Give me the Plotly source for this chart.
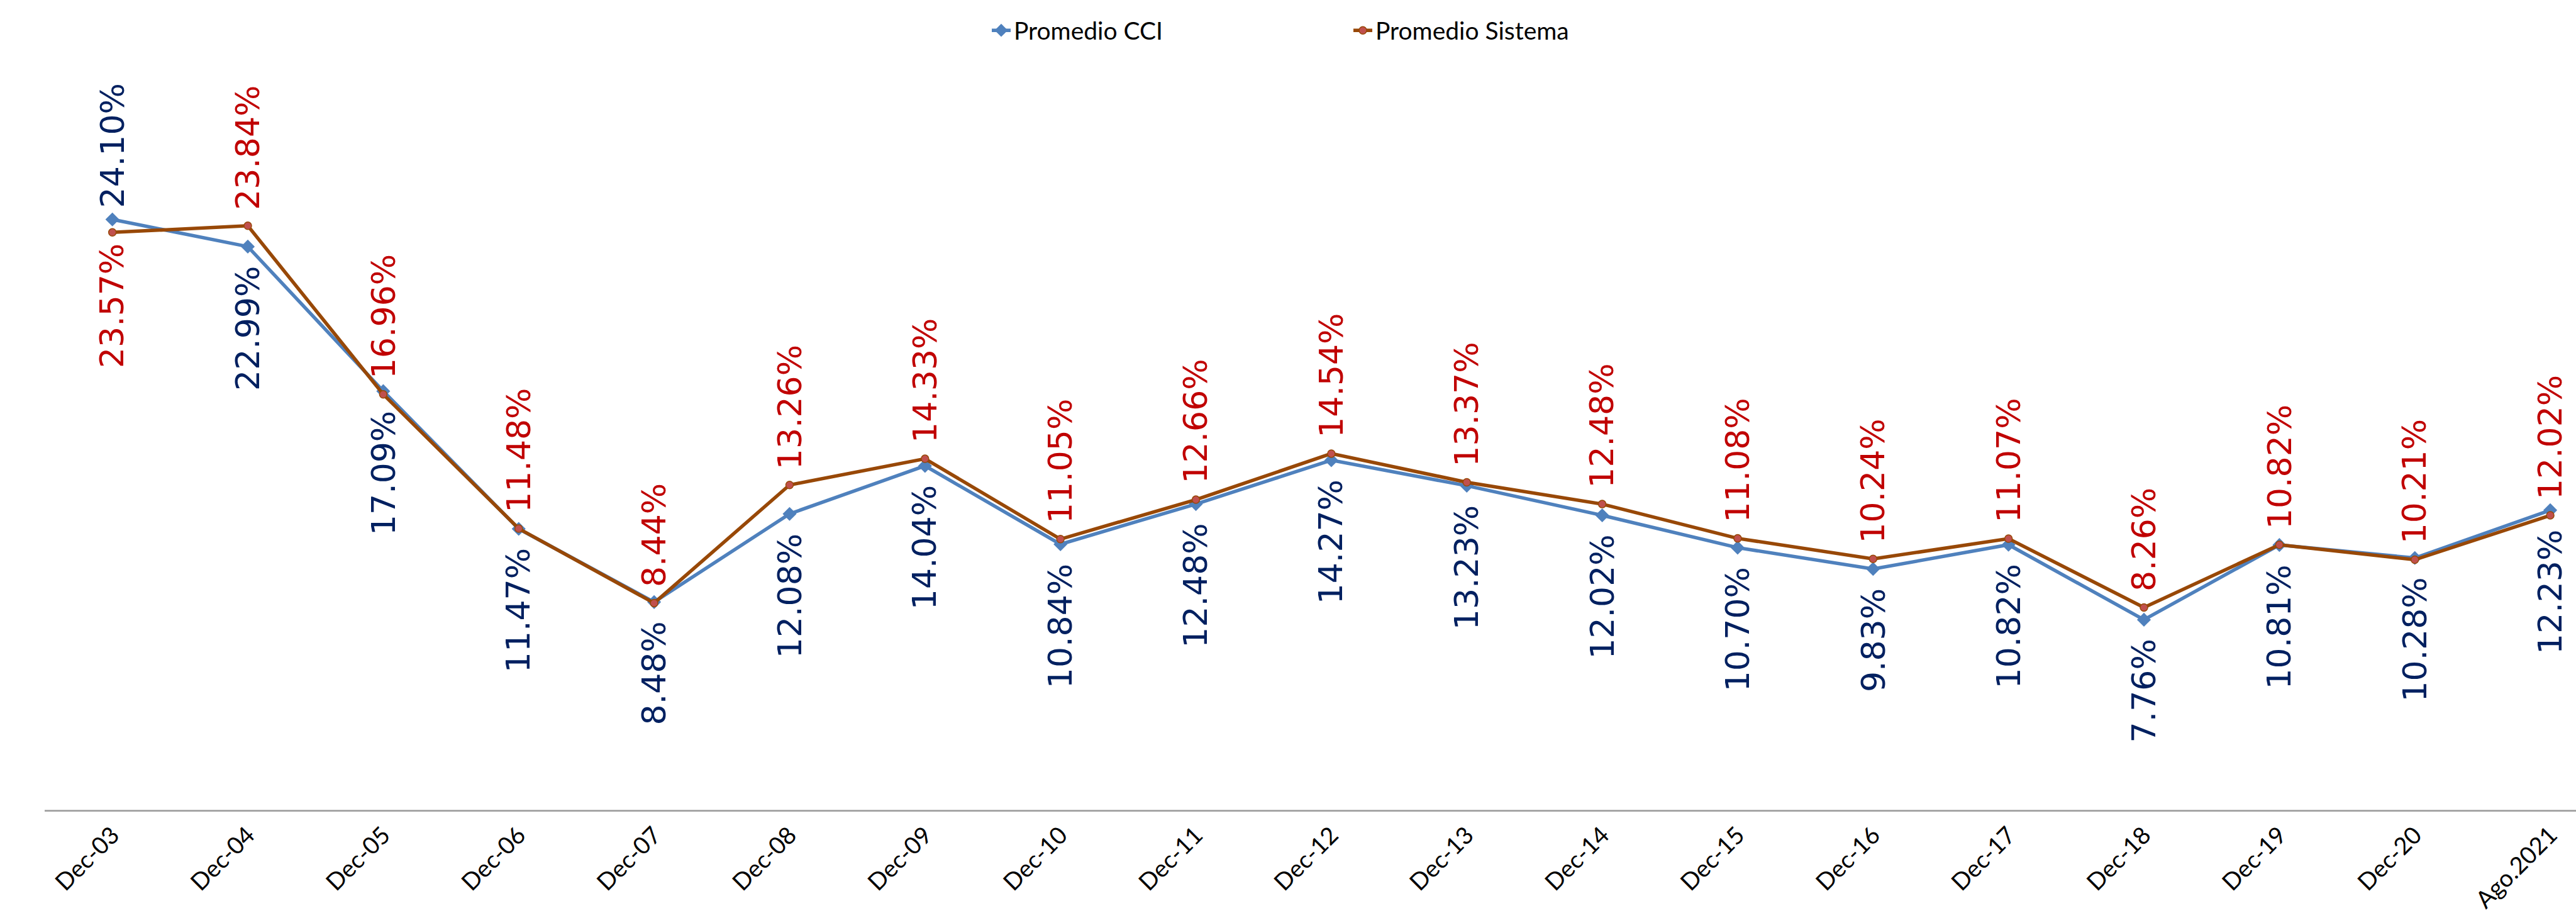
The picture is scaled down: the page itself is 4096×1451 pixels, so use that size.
import plotly.graph_objects as go

# Periods on the horizontal axis
categorias = ["Dec-03", "Dec-04", "Dec-05", "Dec-06", "Dec-07", "Dec-08", "Dec-09",
              "Dec-10", "Dec-11", "Dec-12", "Dec-13", "Dec-14", "Dec-15", "Dec-16",
              "Dec-17", "Dec-18", "Dec-19", "Dec-20", "Ago.2021"]

# Average rates (%) per period
promedio_cci = [24.10, 22.99, 17.09, 11.47, 8.48, 12.08, 14.04, 10.84, 12.48, 14.27,
                13.23, 12.02, 10.70, 9.83, 10.82, 7.76, 10.81, 10.28, 12.23]
promedio_sistema = [23.57, 23.84, 16.96, 11.48, 8.44, 13.26, 14.33, 11.05, 12.66, 14.54,
                    13.37, 12.48, 11.08, 10.24, 11.07, 8.26, 10.82, 10.21, 12.02]

# Where each value label sits relative to its point
pos_cci = ["above"] + ["below"] * 18
pos_sistema = ["below"] + ["above"] * 18

COLOR_CCI = "#4F81BD"
COLOR_SIS = "#984807"
LABEL_CCI = "#002060"
LABEL_SIS = "#C00000"

L, R, T, B = 71, 0, 119, 158

fig = go.Figure()

fig.add_trace(go.Scatter(
    x=categorias, y=[v / 100 for v in promedio_cci], name="Promedio CCI",
    mode="lines+markers",
    line=dict(color=COLOR_CCI, width=5.5),
    marker=dict(symbol="diamond", size=17, color=COLOR_CCI,
                line=dict(color=COLOR_CCI, width=0)),
))
fig.add_trace(go.Scatter(
    x=categorias, y=[v / 100 for v in promedio_sistema], name="Promedio Sistema",
    mode="lines+markers",
    line=dict(color=COLOR_SIS, width=5.5),
    marker=dict(symbol="circle", size=12, color="#C0504D",
                line=dict(color=COLOR_SIS, width=1.5)),
))

label_font = "DejaVu Sans, Verdana, sans-serif"
annotations = []
for serie, posiciones, color in ((promedio_cci, pos_cci, LABEL_CCI),
                                 (promedio_sistema, pos_sistema, LABEL_SIS)):
    for i, (cat, val, pos) in enumerate(zip(categorias, serie, posiciones)):
        above = pos == "above"
        gap = 16 if i == 0 else (23 if above else 29)
        annotations.append(dict(
            x=cat, y=val / 100, xref="x", yref="y",
            text=f"{val:.2f}%", showarrow=False, textangle=-90,
            xanchor="center", yanchor="bottom" if above else "top",
            yshift=gap if above else -gap,
            font=dict(family=label_font, size=52, color=color),
        ))

plot_w = 4096 - L - R
plot_h = 1451 - T - B

fig.update_layout(
    width=4096, height=1451,
    margin=dict(l=L, r=R, t=T, b=B, pad=0),
    paper_bgcolor="white", plot_bgcolor="white",
    showlegend=True,
    legend=dict(
        orientation="h",
        x=(1572 - L) / plot_w, xanchor="left",
        y=1 + (T - 48) / plot_h, yanchor="middle",
        font=dict(family="Lato, Calibri, sans-serif", size=39, color="black"),
        entrywidth=530, entrywidthmode="pixels",
        bgcolor="rgba(0,0,0,0)",
    ),
    xaxis=dict(
        type="category", range=[-0.5, 18.19],
        showline=True, linecolor="#A6A6A6", linewidth=2.5,
        showgrid=False, zeroline=False, ticks="",
        tickangle=-45,
        tickfont=dict(family="Lato, Calibri, sans-serif", size=38, color="black"),
    ),
    yaxis=dict(range=[0, 0.30], visible=False, showgrid=False, zeroline=False),
    annotations=annotations,
)

fig.write_html("out.html")
